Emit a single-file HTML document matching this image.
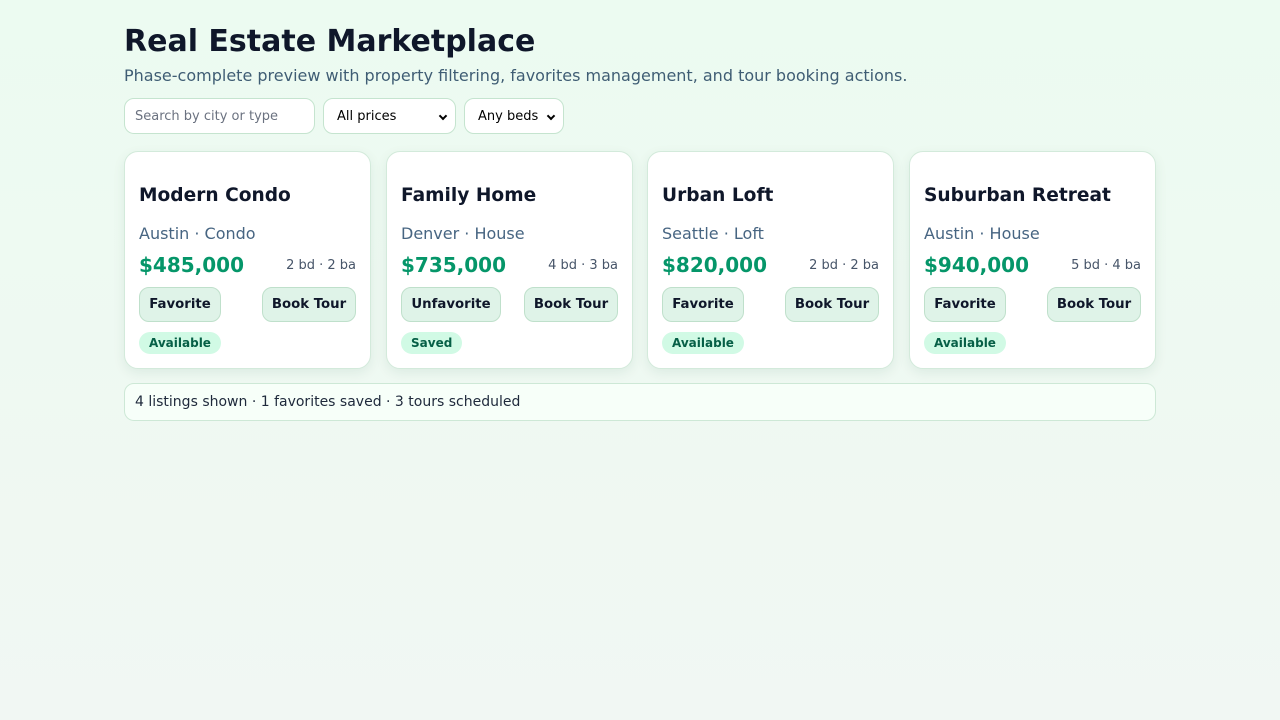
<!DOCTYPE html>
<html><head><style>
*{box-sizing:border-box;margin:0;padding:0}
body{width:1280px;height:720px;font-family:"DejaVu Sans","Liberation Sans",sans-serif;background:linear-gradient(180deg,#ecfbf1 0%,#f1f7f3 100%);color:#0f172a;overflow:hidden}
.wrap{position:absolute;left:124px;top:0;width:1032px}
h1{position:absolute;top:24px;left:0;font-size:30px;font-weight:bold;white-space:nowrap;color:#0f172a}
.sub{position:absolute;top:66px;left:0;font-size:16px;color:#3f5d74;white-space:nowrap}
.ctl{position:absolute;top:98px;height:36px;border:1px solid #c5e4cf;border-radius:10px;background:#fff;font-size:13px;display:flex;align-items:center;padding-left:10px;color:#000}
.ctl.sel::after{content:"";position:absolute;right:9px;top:14px;width:4px;height:4px;border-right:2px solid #000;border-bottom:2px solid #000;transform:rotate(45deg)}
.card{position:absolute;top:151px;width:247px;height:218px;background:#fff;border:1px solid #d3eadb;border-radius:14px;box-shadow:0 4px 12px rgba(16,80,50,.08)}
.card h3{position:absolute;left:14px;top:33px;font-size:18.6px;font-weight:bold;white-space:nowrap}
.loc{position:absolute;left:14px;top:72px;font-size:16px;color:#476582;white-space:nowrap}
.price{position:absolute;left:14px;top:101px;font-size:20px;font-weight:bold;color:#059669}
.bb{position:absolute;right:14px;top:106px;font-size:13px;color:#475569}
.btn{position:absolute;top:135px;height:35px;border:1px solid #bfe0cb;background:#dff3e8;border-radius:10px;font-size:13.3px;font-weight:bold;display:flex;align-items:center;justify-content:center;color:#0f172a}
.badge{position:absolute;left:14px;top:180px;height:22px;padding:0 10px;border-radius:11px;background:#d1fae5;color:#065f46;font-size:12px;font-weight:bold;display:flex;align-items:center}
.foot{position:absolute;top:383px;left:0;width:1032px;height:38px;border:1px solid #cde8d6;border-radius:10px;background:#f7fff9;font-size:14px;display:flex;align-items:center;padding-left:10px;color:#1e293b}
</style></head><body><div class="wrap">
<h1>Real Estate Marketplace</h1>
<div class="sub">Phase-complete preview with property filtering, favorites management, and tour booking actions.</div>
<div class="ctl" style="left:0;width:191px;color:#6b7280">Search by city or type</div>
<div class="ctl sel" style="left:199px;width:133px;padding-left:13px">All prices</div>
<div class="ctl sel" style="left:340px;width:100px;padding-left:13px">Any beds</div>

<div class="card" style="left:0"><h3>Modern Condo</h3><div class="loc">Austin · Condo</div><div class="price">$485,000</div><div class="bb">2 bd · 2 ba</div><div class="btn" style="left:14px;width:82px">Favorite</div><div class="btn" style="right:14px;width:94px">Book Tour</div><div class="badge">Available</div></div>
<div class="card" style="left:262px"><h3>Family Home</h3><div class="loc">Denver · House</div><div class="price">$735,000</div><div class="bb">4 bd · 3 ba</div><div class="btn" style="left:14px;width:100px">Unfavorite</div><div class="btn" style="right:14px;width:94px">Book Tour</div><div class="badge">Saved</div></div>
<div class="card" style="left:523px"><h3>Urban Loft</h3><div class="loc">Seattle · Loft</div><div class="price">$820,000</div><div class="bb">2 bd · 2 ba</div><div class="btn" style="left:14px;width:82px">Favorite</div><div class="btn" style="right:14px;width:94px">Book Tour</div><div class="badge">Available</div></div>
<div class="card" style="left:785px"><h3>Suburban Retreat</h3><div class="loc">Austin · House</div><div class="price">$940,000</div><div class="bb">5 bd · 4 ba</div><div class="btn" style="left:14px;width:82px">Favorite</div><div class="btn" style="right:14px;width:94px">Book Tour</div><div class="badge">Available</div></div>

<div class="foot">4 listings shown · 1 favorites saved · 3 tours scheduled</div>
</div></body></html>
